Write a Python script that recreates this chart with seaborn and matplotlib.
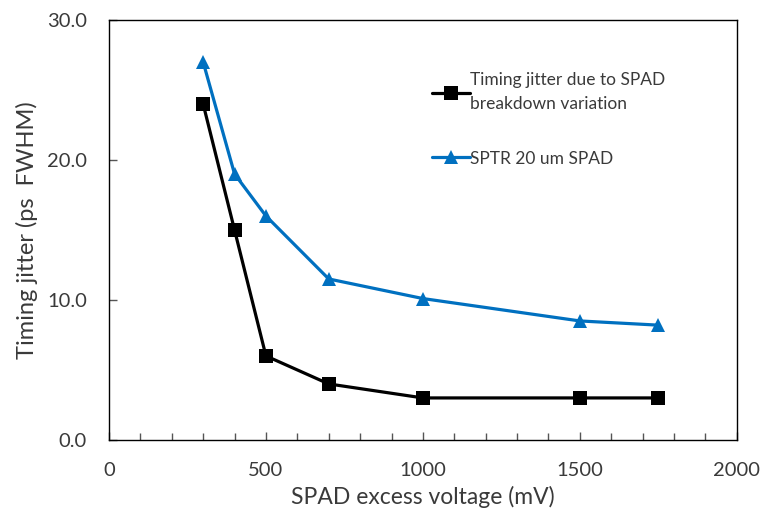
import matplotlib
matplotlib.use("Agg")
import matplotlib.pyplot as plt
from matplotlib.ticker import MultipleLocator, FormatStrFormatter
import seaborn as sns
import pandas as pd

# Excess voltage sweep (mV)
voltage_mv = [300, 400, 500, 700, 1000, 1500, 1750]
# Jitter contributed by breakdown-voltage spread (ps FWHM)
breakdown_jitter = [24.0, 15.0, 6.0, 4.0, 3.0, 3.0, 3.0]
# Single-photon timing resolution of a 20 um SPAD (ps FWHM)
sptr_20um = [27.0, 19.0, 16.0, 11.5, 10.1, 8.5, 8.2]

label_breakdown = "Timing jitter due to SPAD\nbreakdown variation"
label_sptr = "SPTR 20 um SPAD"

df = pd.DataFrame({
    "voltage": voltage_mv * 2,
    "jitter": breakdown_jitter + sptr_20um,
    "series": [label_breakdown] * len(voltage_mv) + [label_sptr] * len(voltage_mv),
})

sns.set_theme(style="white")
plt.rcParams["font.family"] = ["Lato", "DejaVu Sans"]

fig = plt.figure(figsize=(7.62, 5.2), dpi=100)
ax = fig.add_axes([0.143, 0.154, 0.824, 0.8075])

sns.lineplot(
    data=df, x="voltage", y="jitter", hue="series", style="series",
    palette={label_breakdown: "#000000", label_sptr: "#0070C0"},
    markers={label_breakdown: "s", label_sptr: "^"},
    dashes=False, linewidth=2.3, markersize=9.5, markeredgewidth=0,
    ax=ax,
)

ax.set_xlim(0, 2000)
ax.set_ylim(0, 30)
ax.xaxis.set_major_locator(MultipleLocator(500))
ax.xaxis.set_minor_locator(MultipleLocator(100))
ax.yaxis.set_major_locator(MultipleLocator(10))
ax.yaxis.set_major_formatter(FormatStrFormatter("%.1f"))

text_col = "#3a3a3a"
ax.tick_params(axis="x", which="both", direction="in", bottom=True, length=5,
               width=1, color="#555555", labelsize=14.5, pad=16, labelcolor=text_col)
ax.tick_params(axis="x", which="major", length=6)
ax.tick_params(axis="y", which="major", direction="in", left=True, length=6,
               width=1, color="#555555", labelsize=14.5, pad=16, labelcolor=text_col)

for side in ["left", "right", "top", "bottom"]:
    ax.spines[side].set_visible(True)
    ax.spines[side].set_color("#000000")
    ax.spines[side].set_linewidth(1.0)

ax.set_xlabel("SPAD excess voltage (mV)", fontsize=16.5, color=text_col, labelpad=5)
ax.set_ylabel("Timing jitter (ps  FWHM)", fontsize=17, color=text_col, labelpad=6)

leg = ax.legend(
    loc="upper left", bbox_to_anchor=(0.503, 0.893), frameon=False,
    fontsize=12.5, handlelength=2.2, handletextpad=0.0, labelspacing=2.2,
    borderaxespad=0,
)
for t in leg.get_texts():
    t.set_color(text_col)
    t.set_linespacing(1.65)

fig.savefig("out.png", dpi=100)
